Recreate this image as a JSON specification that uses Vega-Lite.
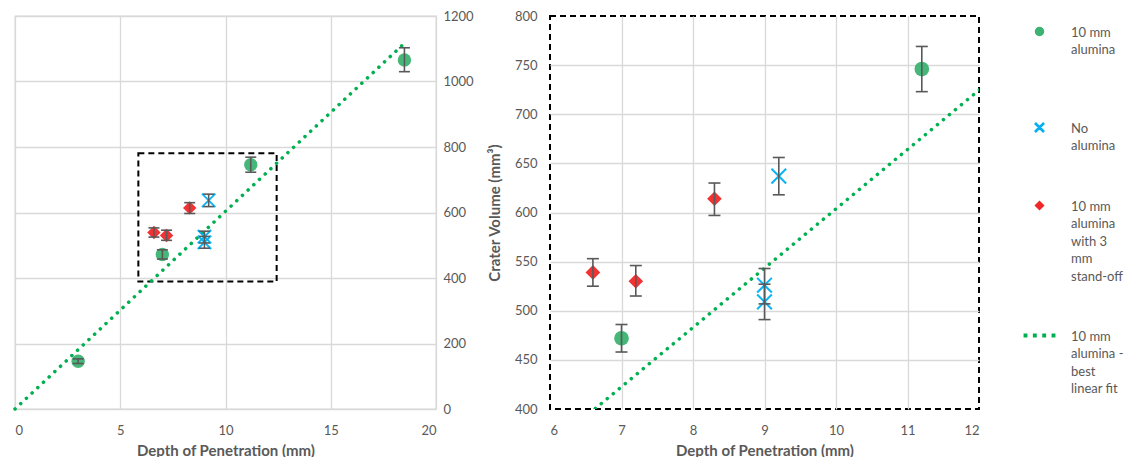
{
  "$schema": "https://vega.github.io/schema/vega-lite/v6.json",
  "padding": {"left": 7, "top": 9, "right": 5, "bottom": 5},
  "bounds": "flush",
  "spacing": 114,
  "config": {
    "font": "Lato",
    "axis": {
      "labelFont": "Lato", "labelFontSize": 13, "labelColor": "#595959",
      "titleFont": "Lato", "titleFontSize": 15, "titleFontWeight": "bold", "titleColor": "#595959",
      "domain": false, "ticks": false, "gridColor": "#d9d9d9", "gridWidth": 1.3
    },
    "legend": {"padding": 0}
  },
  "datasets": {
    "pts": [
      {"series": "10 mm alumina", "x": 3, "y": 146, "lo": 139, "hi": 153},
      {"series": "10 mm alumina", "x": 7, "y": 472, "lo": 458, "hi": 486},
      {"series": "10 mm alumina", "x": 11.2, "y": 746, "lo": 723, "hi": 769},
      {"series": "10 mm alumina", "x": 18.5, "y": 1066, "lo": 1030, "hi": 1103},
      {"series": "No alumina", "x": 9, "y": 526, "lo": 507, "hi": 543},
      {"series": "No alumina", "x": 9, "y": 509, "lo": 491, "hi": 527},
      {"series": "No alumina", "x": 9.2, "y": 637, "lo": 618, "hi": 656},
      {"series": "10 mm alumina with 3 mm stand-off", "x": 6.6, "y": 539, "lo": 525, "hi": 553},
      {"series": "10 mm alumina with 3 mm stand-off", "x": 7.2, "y": 530, "lo": 515, "hi": 546},
      {"series": "10 mm alumina with 3 mm stand-off", "x": 8.3, "y": 614, "lo": 597, "hi": 630}
    ],
    "fit": [
      {"series": "10 mm alumina - best linear fit", "x": 0, "y": 0},
      {"series": "10 mm alumina - best linear fit", "x": 18.4, "y": 1111}
    ],
    "box": [
      {"x": 5.86, "x2": 12.43, "y": 389, "y2": 781}
    ]
  },
  "resolve": {"scale": {"x": "independent", "y": "independent", "color": "shared", "shape": "shared"}},
  "hconcat": [
    {
      "width": 421,
      "height": 393,
      "view": {"stroke": "#d9d9d9", "strokeWidth": 1.3},
      "encoding": {
        "x": {"field": "x", "type": "quantitative", "scale": {"domain": [0, 20], "nice": false, "zero": false},
              "axis": {"values": [0, 5, 10, 15, 20], "labelPadding": 15, "title": "Depth of Penetration (mm)", "titlePadding": 6}},
        "y": {"field": "y", "type": "quantitative", "scale": {"domain": [0, 1200], "nice": false, "zero": false},
              "axis": {"orient": "right", "values": [0, 200, 400, 600, 800, 1000, 1200], "format": "d", "labelPadding": 7, "title": null}}
      },
      "layer": [
        {
          "data": {"name": "box"},
          "mark": {"type": "rect", "fill": null, "fillOpacity": 0, "stroke": "black", "strokeWidth": 2, "strokeDash": [6, 4]},
          "encoding": {
            "x2": {"field": "x2"},
            "y2": {"field": "y2"}
          }
        },
        {
          "data": {"name": "fit"},
          "mark": {"type": "line", "strokeDash": [0.1, 7.7], "strokeCap": "round", "strokeWidth": 3.5},
          "encoding": {
            "color": {
              "field": "series", "type": "nominal",
              "scale": {
                "domain": ["10 mm alumina", "No alumina", "10 mm alumina with 3 mm stand-off", "10 mm alumina - best linear fit"],
                "range": ["#3cb371", "#00b0f0", "#f02828", "#00b050"]
              },
              "legend": {
                "title": null, "orient": "none", "legendX": 1018, "legendY": 9,
                "symbolSize": 64, "labelFont": "Lato", "labelFontSize": 13, "labelColor": "#595959",
                "labelOffset": 25, "rowPadding": 45, "labelBaseline": "top", "labelLimit": 200,
                "labelExpr": "datum.label == '10 mm alumina' ? ['10 mm', 'alumina', ''] : datum.label == 'No alumina' ? ['No', 'alumina'] : datum.label == '10 mm alumina with 3 mm stand-off' ? ['10 mm', 'alumina', 'with 3', 'mm', 'stand-off'] : ['10 mm', 'alumina -', 'best', 'linear fit']",
                "encode": {"labels": {"update": {"lineHeight": {"value": 17.5}, "dy": {"value": -5}}}}
              }
            }
          }
        },
        {
          "data": {"name": "pts"},
          "mark": {"type": "point", "filled": true, "size": 180, "opacity": 0.95, "strokeWidth": 0},
          "encoding": {
            "color": {"field": "series", "type": "nominal"},
            "shape": {
              "field": "series", "type": "nominal",
              "scale": {
                "domain": ["10 mm alumina", "No alumina", "10 mm alumina with 3 mm stand-off", "10 mm alumina - best linear fit"],
                "range": ["circle", "M-0.9,-1.1L1.1,0.9L0.9,1.1L-1.1,-0.9ZM0.9,-1.1L1.1,-0.9L-0.9,1.1L-1.1,0.9Z", "diamond", "M-3.8,-0.3h0.6v0.6h-0.6zM-1.47,-0.3h0.6v0.6h-0.6zM0.87,-0.3h0.6v0.6h-0.6zM3.2,-0.3h0.6v0.6h-0.6z"]
              }
            }
          }
        },
        {
          "data": {"name": "pts"},
          "mark": {"type": "rule", "color": "#595959", "strokeWidth": 1.6},
          "encoding": {
            "y": {"field": "lo", "type": "quantitative"},
            "y2": {"field": "hi"}
          }
        },
        {
          "data": {"name": "pts"},
          "mark": {"type": "tick", "orient": "horizontal", "color": "#595959", "thickness": 1.6, "size": 11, "opacity": 1},
          "encoding": {
            "y": {"field": "lo", "type": "quantitative"}
          }
        },
        {
          "data": {"name": "pts"},
          "mark": {"type": "tick", "orient": "horizontal", "color": "#595959", "thickness": 1.6, "size": 11, "opacity": 1},
          "encoding": {
            "y": {"field": "hi", "type": "quantitative"}
          }
        }
      ]
    },
    {
      "width": 429,
      "height": 393,
      "view": {"stroke": "black", "strokeWidth": 2, "strokeDash": [6, 4]},
      "encoding": {
        "x": {"field": "x", "type": "quantitative", "scale": {"domain": [6, 12], "nice": false, "zero": false},
              "axis": {"values": [6, 7, 8, 9, 10, 11, 12], "labelPadding": 15, "title": "Depth of Penetration (mm)", "titlePadding": 6,
                       "gridOpacity": {"condition": {"test": "datum.value == 6 || datum.value == 12", "value": 0}, "value": 1}}},
        "y": {"field": "y", "type": "quantitative", "scale": {"domain": [400, 800], "nice": false, "zero": false},
              "axis": {"orient": "left", "values": [400, 450, 500, 550, 600, 650, 700, 750, 800], "labelPadding": 13, "title": "Crater Volume (mm³)", "titlePadding": 12,
                       "gridOpacity": {"condition": {"test": "datum.value == 400 || datum.value == 800", "value": 0}, "value": 1}}}
      },
      "layer": [
        {
          "data": {"name": "fit"},
          "mark": {"type": "line", "strokeDash": [0.1, 7.7], "strokeCap": "round", "strokeWidth": 3.5, "clip": true},
          "encoding": {
            "color": {"field": "series", "type": "nominal"}
          }
        },
        {
          "data": {"name": "pts"},
          "mark": {"type": "point", "filled": true, "size": 215, "opacity": 0.95, "strokeWidth": 0, "clip": true},
          "encoding": {
            "color": {"field": "series", "type": "nominal"},
            "shape": {"field": "series", "type": "nominal"}
          }
        },
        {
          "data": {"name": "pts"},
          "mark": {"type": "rule", "color": "#595959", "strokeWidth": 1.6, "clip": true},
          "encoding": {
            "y": {"field": "lo", "type": "quantitative"},
            "y2": {"field": "hi"}
          }
        },
        {
          "data": {"name": "pts"},
          "mark": {"type": "tick", "orient": "horizontal", "color": "#595959", "thickness": 1.6, "size": 12, "opacity": 1, "clip": true},
          "encoding": {
            "y": {"field": "lo", "type": "quantitative"}
          }
        },
        {
          "data": {"name": "pts"},
          "mark": {"type": "tick", "orient": "horizontal", "color": "#595959", "thickness": 1.6, "size": 12, "opacity": 1, "clip": true},
          "encoding": {
            "y": {"field": "hi", "type": "quantitative"}
          }
        }
      ]
    }
  ]
}
